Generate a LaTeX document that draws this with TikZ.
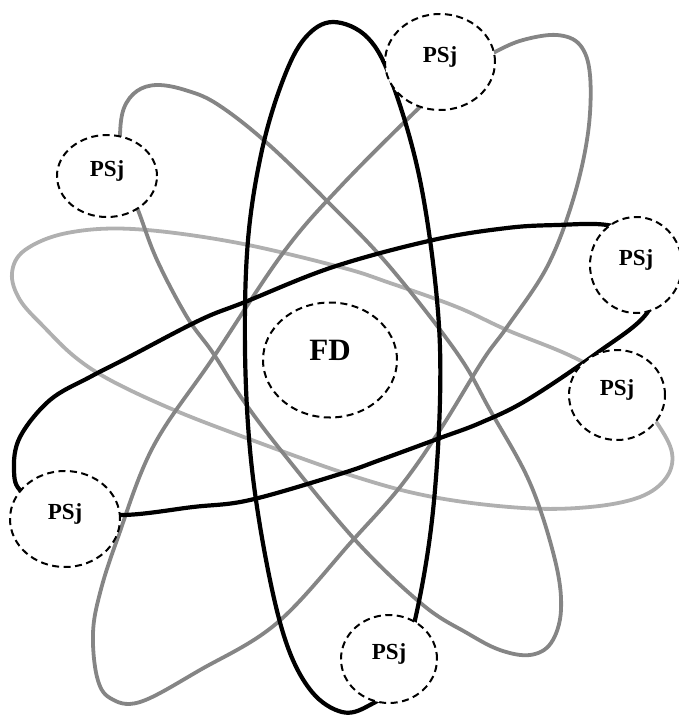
\documentclass[tikz,border=0pt]{standalone}
\usepackage{fontspec}
\setmainfont{Liberation Serif}
\usetikzlibrary{shapes.geometric}
\begin{document}
\begin{tikzpicture}[x=1pt,y=-1pt,
  orb/.style={line width=3.8pt},
  orbblack/.style={orb,draw=black,line width=4.2pt},
  orbgray/.style={orb,draw=black!48},
  orblight/.style={orb,draw=black!31},
  psj/.style={ellipse,draw=black,fill=white,dash pattern=on 7pt off 4.5pt,line width=2pt,font=\fontsize{23}{25}\selectfont\bfseries,inner sep=0pt,text height=0pt,text depth=0pt},
]
\useasboundingbox (0,0) rectangle (679,715);
% light gray ellipse
\draw[orblight] plot[smooth cycle,tension=0.6] coordinates {(12,273) (25,250) (67,233) (133,229) (233,242) (340,267) (390,283) (457,307) (507,330) (573,357) (630,390) (657,423) (672,453) (666,478) (640,497) (590,507) (523,508) (433,497) (350,475) (233,433) (167,407) (110,380) (75,357) (45,328) (20,300)};
% gray ellipse D (upper left to lower right)
\draw[orbgray] plot[smooth cycle,tension=0.6] coordinates {(120,135) (124,108) (137,91) (157,85) (185,90) (217,104) (267,143) (333,207) (390,267) (457,353) (490,410) (530,483) (555,560) (561,610) (551,643) (530,655) (500,650) (467,633) (423,605) (357,542) (283,453) (243,400) (213,353) (187,317) (157,260) (138,210) (122,170)};
% gray ellipse E (upper right to lower left)
\draw[orbgray] plot[smooth cycle,tension=0.6] coordinates {(495,52) (523,40) (557,35) (580,45) (590,75) (588,133) (573,200) (547,267) (507,327) (483,360) (440,430) (400,487) (353,540) (277,623) (200,670) (140,702) (110,698) (97,677) (93,633) (100,593) (117,540) (153,447) (213,358) (283,253) (340,187) (420,107) (460,72)};
% black tilted ellipse B
\draw[orbblack] plot[smooth cycle,tension=0.6] coordinates {(14,470) (20,437) (50,400) (90,377) (127,358) (200,320) (245,302) (333,267) (433,240) (507,228) (557,225) (607,225) (645,238) (658,270) (647,313) (597,353) (527,400) (480,423) (440,438) (380,460) (340,474) (250,500) (193,507) (123,515) (60,510) (22,492)};
% black vertical ellipse A
\draw[orbblack] plot[smooth cycle,tension=0.6] coordinates {(333,22) (368,38) (393,85) (420,180) (437,300) (440,400) (432,520) (415,620) (395,683) (368,706) (342,712) (312,692) (287,645) (267,565) (251,460) (245,350) (248,240) (262,150) (283,80) (305,38)};
% nodes
\node[psj,minimum width=134pt,minimum height=115pt,font=\fontsize{31}{33}\selectfont\bfseries] (fd) at (330,360) {FD};
\node[psj,minimum width=110pt,minimum height=96pt] (p1) at (440,62) {PSj};
\node[psj,minimum width=100pt,minimum height=82pt] (p2) at (107,176) {PSj};
\node[psj,minimum width=92pt,minimum height=96pt] (p3) at (636,265) {PSj};
\node[psj,minimum width=96pt,minimum height=90pt] (p4) at (617,395) {PSj};
\node[psj,minimum width=110pt,minimum height=96pt] (p5) at (65,519) {PSj};
\node[psj,minimum width=96pt,minimum height=88pt] (p6) at (389,659) {PSj};
\end{tikzpicture}
\end{document}
